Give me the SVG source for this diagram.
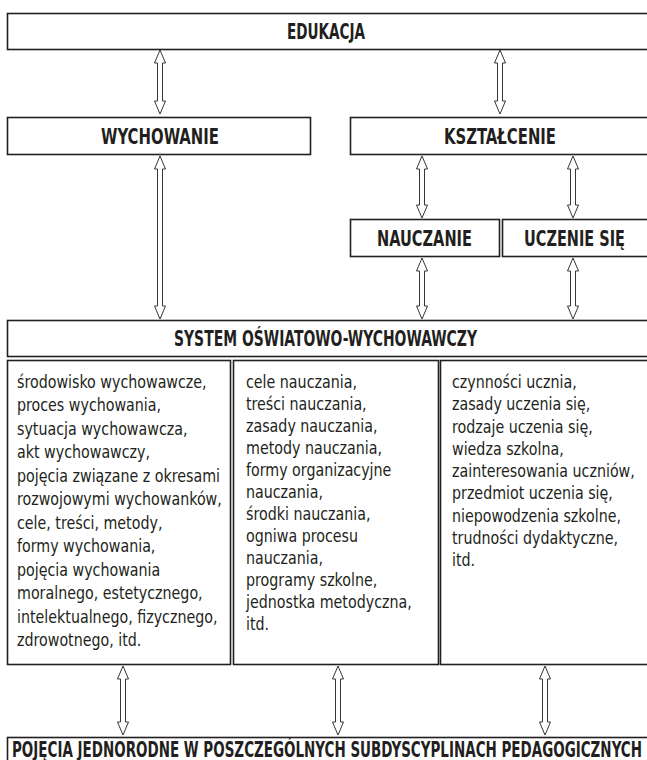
<svg xmlns="http://www.w3.org/2000/svg" width="647" height="760" viewBox="0 0 647 760">
<style>
.box{fill:#fff;stroke:#231f20;stroke-width:1.6}
.arr{fill:#fff;stroke:#231f20;stroke-width:0.9;stroke-linejoin:miter}
.h{font-family:"DejaVu Sans Condensed","DejaVu Sans",sans-serif;font-weight:bold;font-size:21px;fill:#231f20;text-anchor:middle}
.t{font-family:"DejaVu Sans Condensed","DejaVu Sans",sans-serif;font-size:17.6px;fill:#231f20}
</style>
<rect width="647" height="760" fill="#fff"/>
<g id="connectors">
<path class="arr" d="M160,50 L165.5,63 L162.5,63 L162.5,101 L165.5,101 L160,114 L154.5,101 L157.5,101 L157.5,63 L154.5,63 Z"/>
<path class="arr" d="M500,50 L505.5,63 L502.5,63 L502.5,101 L505.5,101 L500,114 L494.5,101 L497.5,101 L497.5,63 L494.5,63 Z"/>
<path class="arr" d="M160,156 L165.5,169 L162.5,169 L162.5,306 L165.5,306 L160,319 L154.5,306 L157.5,306 L157.5,169 L154.5,169 Z"/>
<path class="arr" d="M422,156 L427.5,169 L424.5,169 L424.5,205 L427.5,205 L422,218 L416.5,205 L419.5,205 L419.5,169 L416.5,169 Z"/>
<path class="arr" d="M573,156 L578.5,169 L575.5,169 L575.5,205 L578.5,205 L573,218 L567.5,205 L570.5,205 L570.5,169 L567.5,169 Z"/>
<path class="arr" d="M422,258 L427.5,271 L424.5,271 L424.5,306 L427.5,306 L422,319 L416.5,306 L419.5,306 L419.5,271 L416.5,271 Z"/>
<path class="arr" d="M573,258 L578.5,271 L575.5,271 L575.5,306 L578.5,306 L573,319 L567.5,306 L570.5,306 L570.5,271 L567.5,271 Z"/>
<path class="arr" d="M123,666 L128.5,679 L125.5,679 L125.5,722 L128.5,722 L123,735 L117.5,722 L120.5,722 L120.5,679 L117.5,679 Z"/>
<path class="arr" d="M338,666 L343.5,679 L340.5,679 L340.5,722 L343.5,722 L338,735 L332.5,722 L335.5,722 L335.5,679 L332.5,679 Z"/>
<path class="arr" d="M545,666 L550.5,679 L547.5,679 L547.5,722 L550.5,722 L545,735 L539.5,722 L542.5,722 L542.5,679 L539.5,679 Z"/>
</g>
<g id="edukacja">
<rect class="box" x="7.5" y="13.5" width="660" height="36"/>
<text class="h" x="326" y="39" textLength="78" lengthAdjust="spacingAndGlyphs">EDUKACJA</text>
</g>
<g id="wychowanie">
<rect class="box" x="7.5" y="117.5" width="303" height="37"/>
<text class="h" x="160" y="143.5" textLength="118" lengthAdjust="spacingAndGlyphs">WYCHOWANIE</text>
</g>
<g id="ksztalcenie">
<rect class="box" x="350.5" y="117.5" width="310" height="37"/>
<text class="h" x="500" y="143.5" textLength="112" lengthAdjust="spacingAndGlyphs">KSZTAŁCENIE</text>
</g>
<g id="nauczanie">
<rect class="box" x="350.5" y="219.5" width="149" height="37"/>
<text class="h" x="424.5" y="245.5" textLength="95" lengthAdjust="spacingAndGlyphs">NAUCZANIE</text>
</g>
<g id="uczenie">
<rect class="box" x="502.5" y="219.5" width="158" height="37"/>
<text class="h" x="574.5" y="245.5" textLength="101" lengthAdjust="spacingAndGlyphs">UCZENIE SIĘ</text>
</g>
<g id="system">
<rect class="box" x="7.5" y="320.5" width="660" height="36"/>
<text class="h" x="325.5" y="346" textLength="303" lengthAdjust="spacingAndGlyphs">SYSTEM OŚWIATOWO-WYCHOWAWCZY</text>
</g>
<g id="col1">
<rect class="box" x="7.5" y="360.5" width="223" height="304"/>
<g transform="translate(17,0) scale(0.9,1)">
<text class="t">
<tspan x="0" y="388">środowisko wychowawcze,</tspan>
<tspan x="0" dy="23.5">proces wychowania,</tspan>
<tspan x="0" dy="23.5">sytuacja wychowawcza,</tspan>
<tspan x="0" dy="23.5">akt wychowawczy,</tspan>
<tspan x="0" dy="23.5">pojęcia związane z okresami</tspan>
<tspan x="0" dy="23.5">rozwojowymi wychowanków,</tspan>
<tspan x="0" dy="23.5">cele, treści, metody,</tspan>
<tspan x="0" dy="23.5">formy wychowania,</tspan>
<tspan x="0" dy="23.5">pojęcia wychowania</tspan>
<tspan x="0" dy="23.5">moralnego, estetycznego,</tspan>
<tspan x="0" dy="23.5">intelektualnego, fizycznego,</tspan>
<tspan x="0" dy="23.5">zdrowotnego, itd.</tspan>
</text>
</g>
</g>
<g id="col2">
<rect class="box" x="233.5" y="360.5" width="205" height="304"/>
<g transform="translate(246,0) scale(0.9,1)">
<text class="t">
<tspan x="0" y="388">cele nauczania,</tspan>
<tspan x="0" dy="22">treści nauczania,</tspan>
<tspan x="0" dy="22">zasady nauczania,</tspan>
<tspan x="0" dy="22">metody nauczania,</tspan>
<tspan x="0" dy="22">formy organizacyjne</tspan>
<tspan x="0" dy="22">nauczania,</tspan>
<tspan x="0" dy="22">środki nauczania,</tspan>
<tspan x="0" dy="22">ogniwa procesu</tspan>
<tspan x="0" dy="22">nauczania,</tspan>
<tspan x="0" dy="22">programy szkolne,</tspan>
<tspan x="0" dy="22">jednostka metodyczna,</tspan>
<tspan x="0" dy="22">itd.</tspan>
</text>
</g>
</g>
<g id="col3">
<rect class="box" x="440.5" y="360.5" width="220" height="304"/>
<g transform="translate(452,0) scale(0.9,1)">
<text class="t">
<tspan x="0" y="388">czynności ucznia,</tspan>
<tspan x="0" dy="22.3">zasady uczenia się,</tspan>
<tspan x="0" dy="22.3">rodzaje uczenia się,</tspan>
<tspan x="0" dy="22.3">wiedza szkolna,</tspan>
<tspan x="0" dy="22.3">zainteresowania uczniów,</tspan>
<tspan x="0" dy="22.3">przedmiot uczenia się,</tspan>
<tspan x="0" dy="22.3">niepowodzenia szkolne,</tspan>
<tspan x="0" dy="22.3">trudności dydaktyczne,</tspan>
<tspan x="0" dy="22.3">itd.</tspan>
</text>
</g>
</g>
<g id="pojecia">
<rect class="box" x="7.5" y="737.5" width="660" height="40"/>
<text class="h" x="327" y="757" textLength="630" lengthAdjust="spacingAndGlyphs">POJĘCIA JEDNORODNE W POSZCZEGÓLNYCH SUBDYSCYPLINACH PEDAGOGICZNYCH</text>
</g>
</svg>
